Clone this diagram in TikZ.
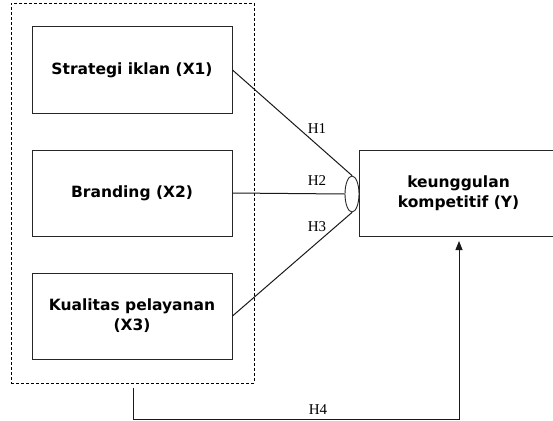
\documentclass[tikz,border=0pt]{standalone}
\usepackage{fontspec}
\setmainfont{Liberation Serif}
\newfontfamily\boxfont{DejaVu Sans}
\usetikzlibrary{shapes.geometric,arrows.meta}
\begin{document}
\begin{tikzpicture}[x=1pt,y=-1pt,
  varbox/.style={draw=black!85,line width=1pt,rectangle,minimum width=200pt,minimum height=86pt,inner sep=0pt,align=center,
    font=\boxfont\bfseries\fontsize{15.5}{20}\selectfont},
  link/.style={draw=black!90,line width=1pt},
  hlab/.style={font=\fontsize{15}{17}\selectfont,inner sep=0pt},
  groupbox/.style={draw=black,line width=0.8pt,dash pattern=on 3pt off 2pt}]
\useasboundingbox (0,0) rectangle (553,420);
\fill[white] (0,0) rectangle (553,420);
\node[groupbox,rectangle,minimum width=243pt,minimum height=380pt,inner sep=0pt] (grp) at (132.5,193) {};
\node[varbox] (x1) at (132,70) {Strategi iklan (X1)};
\node[varbox] (x2) at (132,193) {Branding (X2)};
\node[varbox] (x3) at (132,316) {Kualitas pelayanan\\(X3)};
\node[varbox,minimum width=199pt] (y) at (458.5,193) {keunggulan\\kompetitif (Y)};
\node[draw=black!85,line width=0.9pt,ellipse,minimum width=14pt,minimum height=36pt,inner sep=0pt] (ell) at (352,194) {};
\draw[link] (x1.east) -- (ell.north);
\draw[link] (x2.east) -- (ell.west);
\draw[link] (x3.east) -- (ell.south);
\node[hlab] (h1) at (317,129) {H1};
\node[hlab] (h2) at (317,181) {H2};
\node[hlab] (h3) at (317,227) {H3};
\node[hlab] (h4) at (318,410) {H4};
\coordinate (s4) at (133,388);
\coordinate (t4) at (459,241);
\draw[link,-{Triangle[length=9pt,width=7pt]}] (s4) -- (133,419) -- (459,419) -- (t4);
\end{tikzpicture}
\end{document}
